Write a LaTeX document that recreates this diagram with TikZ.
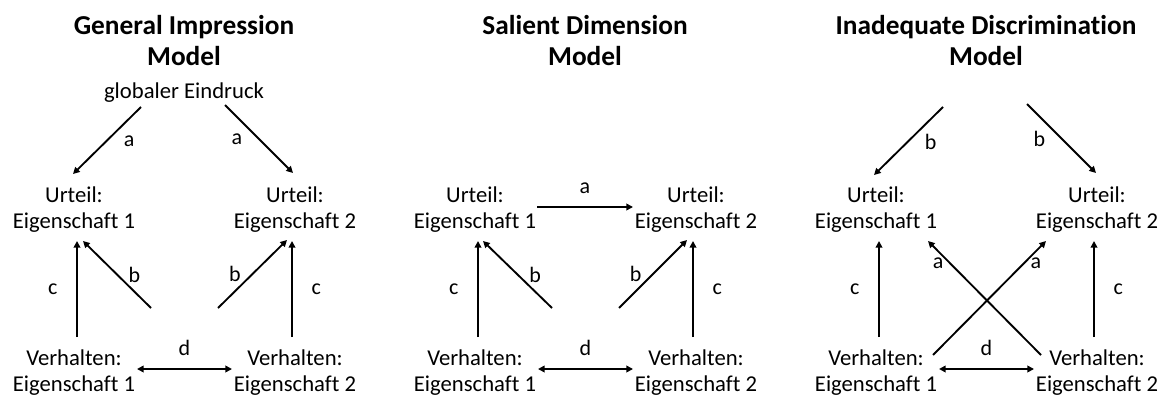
\documentclass[tikz,border=0pt]{standalone}
\usepackage{fontspec}
\setmainfont{Carlito}[Ligatures={NoCommon,NoContextual},Contextuals=NoAlternate]
\usetikzlibrary{arrows.meta}
\begin{document}
\begin{tikzpicture}[x=0.75pt,y=-0.75pt,
  lbl/.style={font=\fontsize{17}{19.5}\selectfont,align=center,inner sep=0pt},
  ttl/.style={font=\fontsize{20.5}{23.5}\selectfont\bfseries,align=center,inner sep=0pt},
  arr/.style={line width=1.4pt,-{Triangle[length=5pt,width=5pt]}},
  darr/.style={line width=1.4pt,{Triangle[length=5pt,width=5pt]}-{Triangle[length=5pt,width=5pt]}},
  let/.style={font=\fontsize{16.5}{19.5}\selectfont,inner sep=0pt}]
\useasboundingbox (0,0) rectangle (1166,396);
% ---------- Panel 1 ----------
\node[ttl] (t1) at (184,40.5) {General Impression\\Model};
\node[lbl] (g1) at (184,93) {globaler Eindruck};
\node[lbl] (u11) at (74,210) {Urteil:\\Eigenschaft 1};
\node[lbl] (u12) at (295,210) {Urteil:\\Eigenschaft 2};
\node[lbl] (v11) at (74,373) {Verhalten:\\Eigenschaft 1};
\node[lbl] (v12) at (295,373) {Verhalten:\\Eigenschaft 2};
\draw[arr] ([shift={(-43,14)}]g1.center) -- node[let,pos=0.45,xshift=14pt,yshift=-3pt]{a} ([shift={(-1,-36)}]u11.center);
\draw[arr] ([shift={(41,12)}]g1.center) -- node[let,pos=0.45,xshift=-14pt,yshift=-3pt]{a} ([shift={(-2,-37)}]u12.center);
\draw[arr] ([shift={(3,-36)}]v11.center) -- node[let,left=14pt]{c} ([shift={(3,31)}]u11.center);
\draw[arr] ([shift={(77,-65)}]v11.center) -- node[let,pos=0.4,xshift=8pt,yshift=5pt]{b} ([shift={(9,31)}]u11.center);
\draw[arr] ([shift={(-77,-65)}]v12.center) -- node[let,pos=0.4,xshift=-8pt,yshift=5pt]{b} ([shift={(-8,30)}]u12.center);
\draw[arr] ([shift={(-3,-36)}]v12.center) -- node[let,right=14pt]{c} ([shift={(-3,31)}]u12.center);
\draw[darr] ([shift={(63,-4)}]v11.center) -- node[let,above=9pt]{d} ([shift={(-63,-4)}]v12.center);
% ---------- Panel 2 ----------
\node[ttl] (t2) at (585,40.5) {Salient Dimension\\Model};
\node[lbl] (u21) at (475,210) {Urteil:\\Eigenschaft 1};
\node[lbl] (u22) at (696,210) {Urteil:\\Eigenschaft 2};
\node[lbl] (v21) at (475,373) {Verhalten:\\Eigenschaft 1};
\node[lbl] (v22) at (696,373) {Verhalten:\\Eigenschaft 2};
\draw[arr] ([shift={(62,-3)}]u21.center) -- node[let,above=9pt]{a} ([shift={(-63,-3)}]u22.center);
\draw[arr] ([shift={(3,-36)}]v21.center) -- node[let,left=14pt]{c} ([shift={(3,31)}]u21.center);
\draw[arr] ([shift={(77,-65)}]v21.center) -- node[let,pos=0.4,xshift=8pt,yshift=5pt]{b} ([shift={(8,31)}]u21.center);
\draw[arr] ([shift={(-77,-65)}]v22.center) -- node[let,pos=0.4,xshift=-8pt,yshift=5pt]{b} ([shift={(-9,30)}]u22.center);
\draw[arr] ([shift={(-3,-36)}]v22.center) -- node[let,right=14pt]{c} ([shift={(-3,31)}]u22.center);
\draw[darr] ([shift={(63,-4)}]v21.center) -- node[let,above=9pt]{d} ([shift={(-63,-4)}]v22.center);
% ---------- Panel 3 ----------
\node[ttl] (t3) at (986,40.5) {Inadequate Discrimination\\Model};
\node[lbl] (u31) at (876,210) {Urteil:\\Eigenschaft 1};
\node[lbl] (u32) at (1097,210) {Urteil:\\Eigenschaft 2};
\node[lbl] (v31) at (876,373) {Verhalten:\\Eigenschaft 1};
\node[lbl] (v32) at (1097,373) {Verhalten:\\Eigenschaft 2};
\coordinate (s31) at (943,107);
\coordinate (s32) at (1027,104);
\draw[arr] (s31) -- node[let,pos=0.45,xshift=14pt,yshift=-3pt]{b} ([shift={(-2,-35)}]u31.center);
\draw[arr] (s32) -- node[let,pos=0.45,xshift=-14pt,yshift=-3pt]{b} ([shift={(-1,-37)}]u32.center);
\draw[arr] ([shift={(3,-36)}]v31.center) -- node[let,left=14pt]{c} ([shift={(3,31)}]u31.center);
\draw[arr] ([shift={(-3,-36)}]v32.center) -- node[let,right=14pt]{c} ([shift={(-3,31)}]u32.center);
\draw[arr] ([shift={(-56,-18)}]v32.center) -- node[let,pos=0.78,xshift=-11pt,yshift=2pt]{a} ([shift={(52,31)}]u31.center);
\draw[arr] ([shift={(57,-18)}]v31.center) -- node[let,pos=0.78,xshift=11pt,yshift=2pt]{a} ([shift={(-51,31)}]u32.center);
\draw[darr] ([shift={(63,-4)}]v31.center) -- node[let,above=9pt]{d} ([shift={(-63,-4)}]v32.center);
\end{tikzpicture}
\end{document}
